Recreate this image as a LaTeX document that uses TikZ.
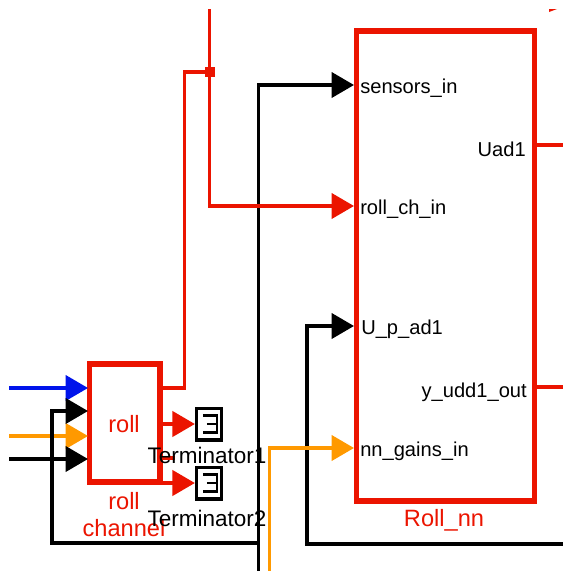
\documentclass[tikz,border=0pt]{standalone}
\usepackage{fontspec}
\setmainfont{Liberation Sans}
\usetikzlibrary{arrows.meta}
\definecolor{simred}{RGB}{235,20,0}
\definecolor{simorange}{RGB}{255,153,0}
\definecolor{simblue}{RGB}{0,20,235}
\tikzset{
    wire/.style={line width=2.4pt,-{Triangle[length=16pt,width=18pt]}},
    plainwire/.style={line width=2.4pt},
    blockbox/.style={draw=simred,line width=4pt,inner sep=0pt},
    termbox/.style={draw=black,line width=2.5pt,fill=white,minimum width=17.6pt,minimum height=22.4pt,inner sep=0pt},
    portlabel/.style={font=\fontsize{14.3}{16}\selectfont,text=black,inner sep=0pt},
    termlabel/.style={font=\fontsize{16}{18}\selectfont,text=black,inner sep=0pt},
    blocklabel/.style={font=\fontsize{16.8}{18}\selectfont,text=simred,inner sep=0pt}
}
\begin{document}
\begin{tikzpicture}[x=0.25mm,y=-0.25mm]
    \useasboundingbox (0,0) rectangle (563,571);
    % blocks
    \node [blockbox,minimum width=126.6pt,minimum height=334pt] (rollnn) at (445.5,266) {};
    \node [blockbox,minimum width=50pt,minimum height=84pt] (rollch) at (124.75,422.75) {};
    \node [termbox] (termone) at (209,424) {};
    \node [termbox] (termtwo) at (209,483) {};
    % ports and free ends
    \coordinate (sensorsin) at (354,85);
    \coordinate (rollchin) at (354,206);
    \coordinate (upadin) at (354,326);
    \coordinate (gainsin) at (354,448);
    \coordinate (uadout) at (537,145);
    \coordinate (yuddout) at (537,387);
    \coordinate (rollone) at (88,388);
    \coordinate (rolltwo) at (88,411);
    \coordinate (rollthree) at (88,436);
    \coordinate (rollfour) at (88,459);
    \coordinate (rollout) at (163,388);
    \coordinate (rollstub) at (163,458);
    \coordinate (tap) at (209.5,72);
    % wires
    \draw [wire,simblue] (9,388)-- (rollone);
    \draw [wire,simorange] (9,436)-- (rollthree);
    \draw [wire,black] (9,459)-- (rollfour);
    \draw [wire,black] (258,543)-- (52,543)-- (52,411)-- (rolltwo);
    \draw [wire,black] (258.5,571)-- (258.5,85)-- (sensorsin);
    \draw [wire,black] (563,544)-- (307,544)-- (307,326)-- (upadin);
    \draw [wire,simorange] (269.5,571)-- (269.5,448)-- (gainsin);
    \draw [wire,simred] (209.5,9)-- (209.5,206)-- (rollchin);
    \draw [plainwire,simred] (rollout)-- (184.5,388)-- (184.5,72)-- (tap);
    \draw [plainwire,simred] (rollstub)-- (175,458);
    \draw [plainwire,simred] (uadout)-- (563,145);
    \draw [plainwire,simred] (yuddout)-- (563,387);
    \draw [wire,simred] (163,424)-- (termone.west);
    \draw [wire,simred] (163,483)-- (termtwo.west);
    \fill [simred] (204.5,67) rectangle (214.5,77);
    \fill [simred] (549,9) -- (557,9) -- (549,12) -- cycle;
    % terminator glyphs
    \foreach \t in {termone,termtwo} {
        \draw [plainwire,line width=2pt] ([xshift=-4.3pt,yshift=6.2pt]\t.center)-- ([xshift=5.7pt,yshift=6.2pt]\t.center)-- ([xshift=5.7pt,yshift=-6.2pt]\t.center)-- ([xshift=-4.3pt,yshift=-6.2pt]\t.center);
        \draw [plainwire,line width=2pt] ([xshift=-1.6pt]\t.center)-- ([xshift=5.7pt]\t.center);
    }
    % labels
    \node [blocklabel] (rolltext) at (124,424) {roll};
    \node [blocklabel] (rollname) at (124,501) {roll};
    \node [blocklabel] (chname) at (124,528) {channel};
    \node [blocklabel] (nnname) at (444,520) {Roll\_nn};
    \node [termlabel] (termonetext) at (207,455) {Terminator1};
    \node [termlabel] (termtwotext) at (207,518) {Terminator2};
    \node [portlabel,anchor=west] (sensorstext) at (360,88) {sensors\_in};
    \node [portlabel,anchor=west] (rollchtext) at (360,209) {roll\_ch\_in};
    \node [portlabel,anchor=west] (upadtext) at (361,329) {U\_p\_ad1};
    \node [portlabel,anchor=west] (gainstext) at (360,451) {nn\_gains\_in};
    \node [portlabel,anchor=east] (uadtext) at (526,149) {Uad1};
    \node [portlabel,anchor=east] (yuddtext) at (527,392) {y\_udd1\_out};
\end{tikzpicture}
\end{document}
